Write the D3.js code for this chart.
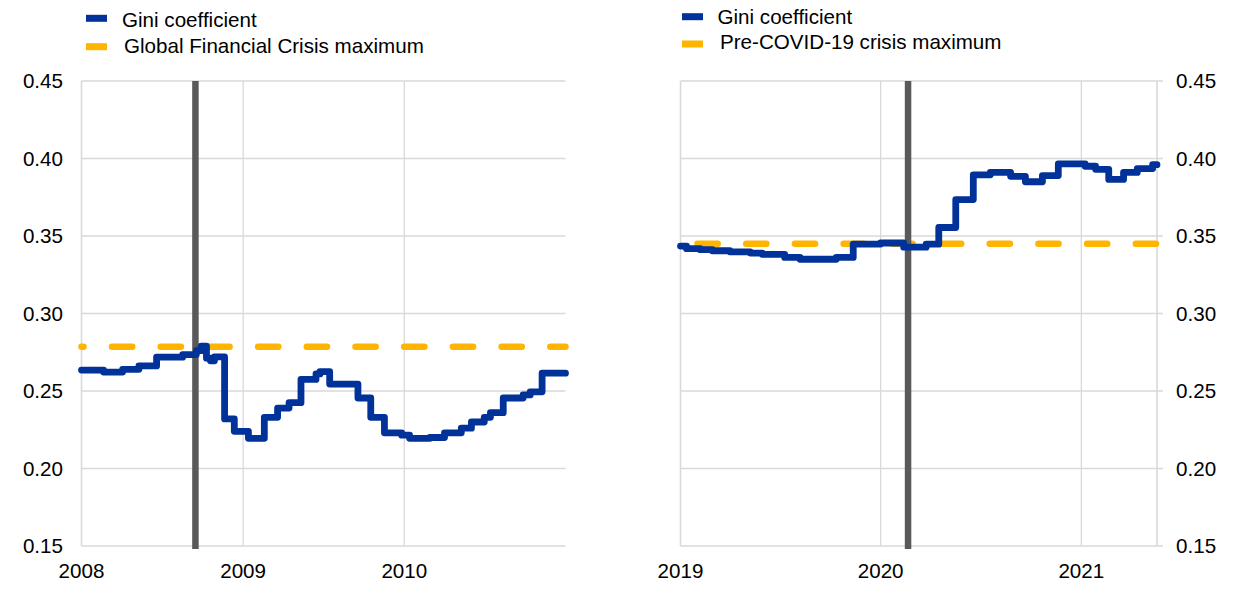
<!DOCTYPE html>
<html>
<head>
<meta charset="utf-8">
<script src="https://cdn.jsdelivr.net/npm/d3@7"></script>
<style>
  body { margin: 0; background: #fff; }
  svg { display: block; font-family: "Liberation Sans", Arial, sans-serif; }
</style>
</head>
<body>
<svg id="chart" width="1240" height="589"></svg>
<script>
// ---------- DATA ----------
// Left panel (Global Financial Crisis)
const leftDates = ["2008-01-01","2008-02-20","2008-04-03","2008-05-10","2008-06-19","2008-08-17","2008-09-17","2008-09-28","2008-10-10","2008-10-19","2008-10-28","2008-11-20","2008-12-12","2009-01-13","2009-02-18","2009-03-20","2009-04-15","2009-05-12","2009-06-15","2009-06-24","2009-07-16","2009-09-18","2009-10-17","2009-11-17","2009-12-26","2010-01-13","2010-02-28","2010-04-02","2010-05-10","2010-06-02","2010-07-01","2010-07-15","2010-08-13","2010-09-27","2010-10-13","2010-11-09"];
const leftGini = [0.2635,0.2622,0.2640,0.2662,0.2718,0.2735,0.2760,0.2790,0.2712,0.2695,0.2720,0.2320,0.2240,0.2195,0.2330,0.2390,0.2425,0.2575,0.2610,0.2625,0.2545,0.2455,0.2330,0.2230,0.2215,0.2195,0.2200,0.2230,0.2260,0.2300,0.2330,0.2360,0.2455,0.2475,0.2495,0.2615];
const leftDomain = ["2008-01-01","2011-01-01"];
const leftMax = 0.2785;
const leftEvent = "2008-09-15";
const leftTicks = ["2008","2009","2010"];
const leftLegend = ["Gini coefficient","Global Financial Crisis maximum"];

// Right panel (COVID-19)
const rightDates = ["2019-01-01","2019-01-12","2019-02-06","2019-02-28","2019-04-01","2019-05-08","2019-05-30","2019-07-10","2019-08-07","2019-10-12","2019-11-12","2020-01-01","2020-02-12","2020-03-24","2020-04-16","2020-05-17","2020-06-18","2020-07-19","2020-08-25","2020-09-21","2020-10-22","2020-11-20","2021-01-08","2021-01-27","2021-02-20","2021-03-19","2021-04-13","2021-05-11"];
const rightGini = [0.3435,0.3418,0.3412,0.3405,0.3398,0.3390,0.3382,0.3362,0.3350,0.3362,0.3448,0.3455,0.3428,0.3447,0.3555,0.3735,0.3895,0.3910,0.3885,0.3850,0.3890,0.3965,0.3950,0.3930,0.3865,0.3910,0.3935,0.3960];
const rightDomain = ["2019-01-01","2021-05-19"];
const rightMax = 0.345;
const rightEvent = "2020-02-20";
const rightTicks = ["2019","2020","2021"];
const rightLegend = ["Gini coefficient","Pre-COVID-19 crisis maximum"];

const yTicks = [0.15,0.20,0.25,0.30,0.35,0.40,0.45];

// ---------- STYLE ----------
const BLUE = "#003299", ORANGE = "#FFB400", GREY = "#595959", GRID = "#d9d9d9";
const FONT = 20.6;
const parse = d3.timeParse("%Y-%m-%d");
const svg = d3.select("#chart");

const y = d3.scaleLinear().domain([0.15, 0.45]).range([546, 81]);

function panel(cfg) {
  const x = d3.scaleTime().domain(cfg.domain.map(parse)).range(cfg.xr);
  const g = svg.append("g");
  const x0 = cfg.xr[0], x1 = cfg.xr[1];

  // horizontal gridlines
  const gx2 = cfg.side === "right" ? x1 + 6 : x1;
  g.append("g").selectAll("line").data(yTicks.filter(t => t > 0.15)).join("line")
    .attr("x1", x0).attr("x2", gx2)
    .attr("y1", d => y(d)).attr("y2", d => y(d))
    .attr("stroke", GRID).attr("stroke-width", 1.3);

  // vertical gridlines at year ticks
  const tickDates = cfg.ticks.map(t => parse(t + "-01-01"));
  g.append("g").selectAll("line").data(tickDates.slice(1)).join("line")
    .attr("x1", d => x(d)).attr("x2", d => x(d))
    .attr("y1", y(0.45)).attr("y2", y(0.15))
    .attr("stroke", GRID).attr("stroke-width", 1.3);

  // axis lines
  g.append("line").attr("x1", x0).attr("x2", x0).attr("y1", y(0.45)).attr("y2", y(0.15))
    .attr("stroke", GRID).attr("stroke-width", 1.6);
  g.append("line").attr("x1", x0).attr("x2", cfg.side === "right" ? x1 + 6 : x1)
    .attr("y1", y(0.15)).attr("y2", y(0.15))
    .attr("stroke", GRID).attr("stroke-width", 1.6);
  if (cfg.side === "right") {
    g.append("line").attr("x1", x1).attr("x2", x1).attr("y1", y(0.45)).attr("y2", y(0.15))
      .attr("stroke", GRID).attr("stroke-width", 1.6);
  }

  // y tick labels
  const yl = g.append("g").selectAll("text").data(yTicks).join("text")
    .attr("y", d => y(d)).attr("dy", "0.36em")
    .attr("font-size", FONT).attr("fill", "#000")
    .text(d => d3.format(".2f")(d));
  if (cfg.side === "left") yl.attr("x", 63).attr("text-anchor", "end");
  else yl.attr("x", 1176).attr("text-anchor", "start");

  // x tick labels
  g.append("g").selectAll("text").data(tickDates).join("text")
    .attr("x", d => x(d)).attr("y", 578)
    .attr("text-anchor", "middle").attr("font-size", FONT).attr("fill", "#000")
    .text(d => d3.timeFormat("%Y")(d));

  // maximum dashed line
  g.append("line").attr("x1", x0).attr("x2", x1)
    .attr("y1", y(cfg.max)).attr("y2", y(cfg.max))
    .attr("stroke", ORANGE).attr("stroke-width", 6.5)
    .attr("stroke-linecap", "round")
    .attr("stroke-dasharray", "20.2,28.5")
    .attr("stroke-dashoffset", cfg.dashOffset);

  // event vertical line
  const ex = x(parse(cfg.event));
  g.append("line").attr("x1", ex).attr("x2", ex).attr("y1", y(0.45)).attr("y2", y(0.15) + 3)
    .attr("stroke", GREY).attr("stroke-width", 6.5);

  // gini line
  const pts = cfg.dates.map((d, i) => [parse(d), cfg.vals[i]]);
  pts.push([parse(cfg.domain[1]), cfg.vals[cfg.vals.length - 1]]);
  const line = d3.line().x(d => x(d[0])).y(d => y(d[1])).curve(d3.curveStepAfter);
  g.append("path").datum(pts).attr("d", line)
    .attr("fill", "none").attr("stroke", BLUE).attr("stroke-width", 6.8)
    .attr("stroke-linejoin", "round").attr("stroke-linecap", "round");

  // legend
  const L = cfg.legend;
  const lg = g.append("g");
  lg.append("rect").attr("x", L.sx).attr("y", L.y1 - 3.5).attr("width", 21).attr("height", 7).attr("fill", BLUE);
  lg.append("rect").attr("x", L.sx).attr("y", L.y2 - 3.5).attr("width", 21).attr("height", 7).attr("fill", ORANGE);
  lg.append("text").attr("x", L.tx1).attr("y", L.b1).attr("font-size", FONT).text(cfg.labels[0]);
  lg.append("text").attr("x", L.tx2).attr("y", L.b2).attr("font-size", FONT).text(cfg.labels[1]);
}

panel({
  side: "left", domain: leftDomain, xr: [81.5, 565.5], ticks: leftTicks,
  dates: leftDates, vals: leftGini, max: leftMax, event: leftEvent, labels: leftLegend,
  dashOffset: 18.2,
  legend: { sx: 86, y1: 18.3, y2: 46.7, tx1: 122, b1: 26.5, tx2: 124, b2: 52.5 }
});
panel({
  side: "right", domain: rightDomain, xr: [680.5, 1157], ticks: rightTicks,
  dates: rightDates, vals: rightGini, max: rightMax, event: rightEvent, labels: rightLegend,
  dashOffset: 31.7,
  legend: { sx: 682, y1: 16.7, y2: 44, tx1: 717.5, b1: 24.2, tx2: 720, b2: 48.5 }
});
</script>
</body>
</html>
